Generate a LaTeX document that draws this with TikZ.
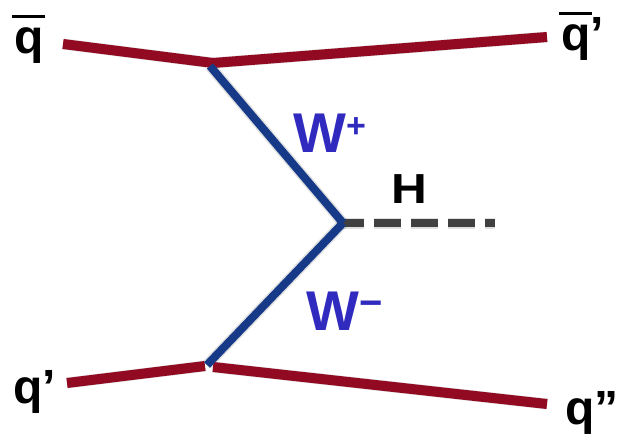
\documentclass[tikz,border=0pt]{standalone}
\usepackage{fontspec}
\setmainfont{Liberation Sans}
\definecolor{quarkred}{RGB}{146,10,34}
\definecolor{wline}{RGB}{22,58,135}
\definecolor{wtext}{RGB}{48,42,190}
\definecolor{hgray}{RGB}{64,64,64}
\newcommand\barq{\leavevmode\rlap{\kern-0.04em\rule[0.74em]{0.69em}{0.065em}}q}
\begin{document}
\begin{tikzpicture}[x=1pt,y=-1pt,
  quark/.style={draw=quarkred,line width=10pt},
  boson/.style={draw=wline,line width=8pt},
  higgs/.style={draw=hgray,line width=8pt,dash pattern=on 27pt off 10pt},
  shade/.style={draw=black,opacity=0.12,line width=11pt},
  lbl/.style={inner sep=0pt,anchor=base west,font=\bfseries\fontsize{48}{50}\selectfont},
  wlbl/.style={inner sep=0pt,anchor=base west,text=wtext,font=\bfseries\fontsize{56}{60}\selectfont}]
\useasboundingbox (0,0) rectangle (623,441);
% vertices and ends
\coordinate (a1) at (63,44);
\coordinate (v1) at (213,63);
\coordinate (b1) at (547,37);
\coordinate (w1) at (210,66);
\coordinate (vt) at (343,223);
\coordinate (h0) at (337,223);
\coordinate (h1) at (495,223);
\coordinate (a2) at (67,383);
\coordinate (v2) at (205,366);
\coordinate (w2) at (207,365);
\coordinate (v3) at (213,367);
\coordinate (b2) at (547,404);
% shadows
\begin{scope}[shift={(2,3)}]
\draw[shade] (a1) -- (v1);
\draw[shade] (v1) -- (b1);
\draw[shade] (w1) -- (vt);
\draw[shade] (vt) -- (w2);
\draw[shade] (a2) -- (v2);
\draw[shade] (v3) -- (b2);
\draw[shade,dash pattern=on 27pt off 10pt] (h0) -- (h1);
\end{scope}
% lines
\draw[higgs] (h0) -- (h1);
\draw[quark] (a1) -- (v1);
\draw[quark] (v1) -- (b1);
\draw[quark] (a2) -- (v2);
\draw[quark] (v3) -- (b2);
\draw[boson] (w1) -- (vt);
\draw[boson] (vt) -- (w2);
% labels
\node[lbl] (qbar) at (14,54) {\barq};
\node[lbl] (qbarp) at (561,51) {\barq’};
\node[lbl] (qp) at (13,403) {q’};
\node[lbl] (qpp) at (565,424) {q”};
\node[inner sep=0pt,anchor=base west,font=\bfseries\fontsize{42}{44}\selectfont] (H) at (391,203) {\scalebox{1.18}[1]{H}};
\node[wlbl] (wp) at (293,152) {W\raisebox{15pt}{\fontsize{34}{36}\selectfont +}};
\node[wlbl] (wm) at (306,330) {W\raisebox{14pt}{\fontsize{40}{40}\selectfont −}};
\end{tikzpicture}
\end{document}
